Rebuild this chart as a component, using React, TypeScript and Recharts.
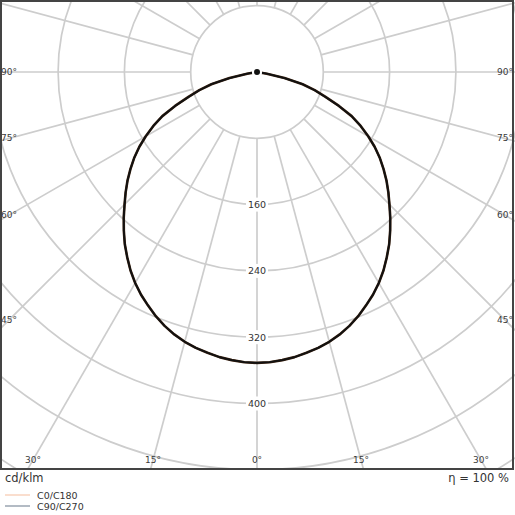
import { RadarChart, Radar, PolarGrid, PolarAngleAxis, PolarRadiusAxis } from 'recharts'

// -------------------------------------------------------------------
// Data (cd/klm against gamma, degrees from nadir).
// Only gamma 0..90 is listed; above 90 the luminaire gives no light.
// -------------------------------------------------------------------
const GAMMA_STEP = 2.5
const C0_C180 = [
  351, 350.5, 349, 347, 344, 341, 337, 332, 326, 319, 311, 303, 294, 284, 273, 262, 250, 238,
  226, 215, 204, 192.5, 181, 168.5, 155, 141, 126, 107, 88, 73, 57, 34, 12, 0, 0, 0, 0,
]
const C90_C270 = [
  351, 350.5, 349, 347, 344, 341, 337, 332, 326, 319, 311, 303, 294, 284, 273, 262, 250, 238,
  226, 215, 204, 192.5, 181, 168.5, 155, 141, 126, 107, 88, 73, 57, 34, 12, 0, 0, 0, 0,
]

// grid spokes every 15 degrees, full turn
const GRID_DIRS = [0, 15, 30, 45, 60, 75, 90, 105, 120, 135, 150, 165, 180, 195, 210, 225, 240, 255, 270, 285, 300, 315, 330, 345]
const ANGLE_LABELS = [0, 15, 30, 45, 60, 75, 90]
const RADIUS_LABELS = [160, 240, 320, 400]

// direction around the full turn -> gamma in the half plane
const toGamma = (dir: number) => (dir <= 180 ? dir : 360 - dir)
const valueAt = (series: number[], gamma: number) => series[Math.round(gamma / GAMMA_STEP)] ?? 0

const curveData = Array.from({ length: 360 / GAMMA_STEP }, (_, i) => {
  const dir = i * GAMMA_STEP
  const g = toGamma(dir)
  return { dir, c0: valueAt(C0_C180, g), c90: valueAt(C90_C270, g) }
})
const gridData = GRID_DIRS.map((dir) => ({ dir }))

// layout
const W = 515
const PLOT_H = 470
const CX = 257
const CY = 72
const PX_PER_CD = 66.3 / 80
const R_MAX = 640
const OUTER = R_MAX * PX_PER_CD
const INNER = 80 * PX_PER_CD
const LABEL_HALF_W = 248
const LABEL_Y = 460
const FONT = "'DejaVu Sans', Verdana, sans-serif"

function AngleTick(props: any) {
  const { x, y, payload, index } = props
  const gamma = toGamma(Number(payload?.value))
  if (!ANGLE_LABELS.includes(gamma)) return <g key={`a-${index}`} />
  const dx = x - CX
  const dy = y - CY
  const len = Math.hypot(dx, dy) || 1
  const ux = dx / len
  const uy = dy / len
  let t = Infinity
  if (ux > 1e-6) t = Math.min(t, LABEL_HALF_W / ux)
  if (ux < -1e-6) t = Math.min(t, -LABEL_HALF_W / ux)
  if (uy > 1e-6) t = Math.min(t, (LABEL_Y - CY) / uy)
  return (
    <text
      key={`a-${index}`}
      x={CX + ux * t}
      y={CY + uy * t}
      textAnchor="middle"
      dominantBaseline="central"
      fontSize={9}
      fontFamily={FONT}
      fill="#3a3a3a"
    >
      {gamma}°
    </text>
  )
}

function RadiusTick(props: any) {
  const { x, y, payload, index } = props
  const v = Number(payload?.value)
  if (!RADIUS_LABELS.includes(v)) return <g key={`r-${index}`} />
  return (
    <g key={`r-${index}`}>
      <rect x={x - 11} y={y - 7} width={22} height={14} fill="#fff" />
      <text
        x={x}
        y={y}
        textAnchor="middle"
        dominantBaseline="central"
        fontSize={9.5}
        fontFamily={FONT}
        fill="#333"
      >
        {v}
      </text>
    </g>
  )
}

function CenterDot(props: any) {
  const { cx, cy, payload, index } = props
  if (payload?.dir !== 90) return <g key={`d-${index}`} />
  return <circle key={`d-${index}`} cx={cx} cy={cy} r={2.6} fill="#111" />
}

export default function App() {
  return (
    <div style={{ position: 'relative', width: W, height: W, background: '#fff', overflow: 'hidden' }}>
      <style>{'body{margin:0}'}</style>

      {/* grid: rings from 80 cd/klm outward, spokes every 15° */}
      <div style={{ position: 'absolute', left: 0, top: 0 }}>
        <RadarChart
          width={W}
          height={PLOT_H}
          data={gridData}
          cx={CX}
          cy={CY}
          innerRadius={INNER}
          outerRadius={OUTER}
          startAngle={270}
          endAngle={-90}
          margin={{ top: 0, right: 0, bottom: 0, left: 0 }}
        >
          <PolarGrid gridType="circle" stroke="#cdcdcd" strokeWidth={1.7} />
          <PolarAngleAxis dataKey="dir" axisLine={false} tickLine={false} tick={AngleTick} />
          <PolarRadiusAxis
            domain={[80, R_MAX]}
            allowDataOverflow
            tickCount={8}
            axisLine={false}
            tickLine={false}
            tick={false}
          />
        </RadarChart>
      </div>

      {/* curves */}
      <div style={{ position: 'absolute', left: 0, top: 0 }}>
        <RadarChart
          width={W}
          height={PLOT_H}
          data={curveData}
          cx={CX}
          cy={CY}
          innerRadius={0}
          outerRadius={OUTER}
          startAngle={270}
          endAngle={-90}
          margin={{ top: 0, right: 0, bottom: 0, left: 0 }}
        >
          <PolarAngleAxis dataKey="dir" axisLine={false} tickLine={false} tick={false} />
          <PolarRadiusAxis
            angle={-90}
            domain={[0, R_MAX]}
            allowDataOverflow
            tickCount={9}
            axisLine={false}
            tickLine={false}
            tick={RadiusTick}
          />
          <Radar
            dataKey="c0"
            name="C0/C180"
            stroke="#3e2310"
            strokeWidth={2.6}
            strokeLinejoin="round"
            fill="none"
            fillOpacity={0}
            dot={false}
            isAnimationActive={false}
          />
          <Radar
            dataKey="c90"
            name="C90/C270"
            stroke="#111111"
            strokeWidth={1.8}
            strokeLinejoin="round"
            fill="none"
            fillOpacity={0}
            dot={CenterDot}
            isAnimationActive={false}
          />
        </RadarChart>
      </div>

      {/* frame */}
      <div
        style={{
          position: 'absolute',
          left: 0,
          top: 0,
          width: 514,
          height: PLOT_H,
          border: '2px solid #444',
          boxSizing: 'border-box',
          pointerEvents: 'none',
        }}
      />

      {/* footer: unit, efficiency and legend */}
      <svg width={W} height={W - PLOT_H} style={{ position: 'absolute', left: 0, top: PLOT_H }}>
        <text x={5} y={8} dominantBaseline="central" fontSize={11.5} fontFamily={FONT} fill="#333">
          cd/klm
        </text>
        <text x={509} y={8} textAnchor="end" dominantBaseline="central" fontSize={11.5} fontFamily={FONT} fill="#333">
          η = 100 %
        </text>
        <line x1={5} x2={30} y1={25} y2={25} stroke="#f7cdb3" strokeWidth={1.3} />
        <text x={37} y={25.5} dominantBaseline="central" fontSize={9.5} fontFamily={FONT} fill="#333">
          C0/C180
        </text>
        <line x1={5} x2={30} y1={36} y2={36} stroke="#8a97a5" strokeWidth={1.3} />
        <text x={37} y={36.5} dominantBaseline="central" fontSize={9.5} fontFamily={FONT} fill="#333">
          C90/C270
        </text>
      </svg>
    </div>
  )
}
